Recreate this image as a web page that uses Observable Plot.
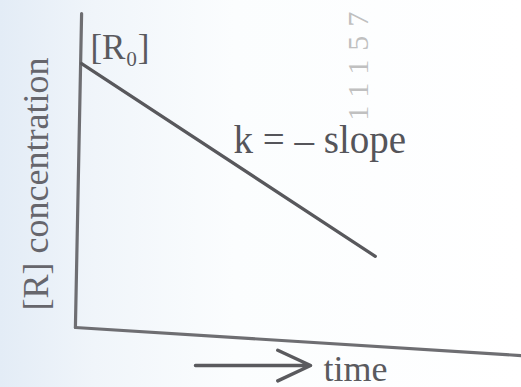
<!DOCTYPE html>
<html>
<head>
<meta charset="utf-8">
<script src="https://cdn.jsdelivr.net/npm/d3@7"></script>
<script src="https://cdn.jsdelivr.net/npm/@observablehq/plot@0.6"></script>
<style>
  html, body { margin: 0; padding: 0; background: #fff; }
  #chart { width: 521px; height: 387px; background: linear-gradient(to right, #e3ecf6 0%, #f0f5fa 18%, #fbfdfe 45%, #ffffff 100%); }
  #chart svg { display: block; }
</style>
</head>
<body>
<div id="chart"></div>
<script>
// Zero-order reaction: [R] falls linearly with time
const lineTime = [0.07, 6.7];
const lineConc = [8.46, 2.28];

// Hand-drawn axes (slightly skewed as in the photographed page)
const yAxisX = [0.07, -0.07];
const yAxisY = [10.06, 0];
const xAxisX = [-0.07, 10];
const xAxisY = [0, -0.9];

// Text labels
const labelTexts = ["k = – slope"];
const labelX = [3.5];
const labelY = [5.58];

const r0Text = ["[R₀]"];
const r0X = [0.27];
const r0Y = [8.62];

const yTitle = ["[R] concentration"];
const yTitleX = [-0.69];
const yTitleY = [4.6];

const xTitle = ["time"];
const xTitleX = [5.53];
const xTitleY = [-1.7];

const arrowX1 = [2.64], arrowX2 = [5.24], arrowY = [-1.22];

const watermark = ["11157"];
const wmX = [6.54], wmY = [6.63];

const serif = "Liberation Serif, Times New Roman, serif";

const chart = Plot.plot({
  width: 521,
  height: 387,
  marginLeft: 78,
  marginRight: 0,
  marginTop: 15,
  marginBottom: 60,
  x: {domain: [0, 10], axis: null},
  y: {domain: [0, 10], axis: null},
  style: {fontFamily: serif, background: "transparent", overflow: "visible"},
  marks: [
    Plot.text(watermark, {x: wmX, y: wmY, text: d => d, rotate: -90, textAnchor: "start", lineAnchor: "bottom",
      fontSize: 30, fill: "#c0c0c0", fontFamily: serif, clip: false}),
    Plot.line(yAxisX.map((x, i) => [x, yAxisY[i]]), {x: d => d[0], y: d => d[1], stroke: "#6e6e72", strokeWidth: 3.2}),
    Plot.line(xAxisX.map((x, i) => [x, xAxisY[i]]), {x: d => d[0], y: d => d[1], stroke: "#6e6e72", strokeWidth: 3.2}),
    Plot.line(lineTime.map((t, i) => ({time: t, conc: lineConc[i]})), {x: "time", y: "conc", stroke: "#58585c", strokeWidth: 3.2}),
    Plot.text(r0Text, {x: r0X, y: r0Y, text: d => d, textAnchor: "start", lineAnchor: "bottom", fontSize: 35, fill: "#5a5a5e"}),
    Plot.text(labelTexts, {x: labelX, y: labelY, text: d => d, textAnchor: "start", lineAnchor: "bottom", fontSize: 39, fill: "#55555a"}),
    Plot.text(yTitle, {x: yTitleX, y: yTitleY, text: d => d, rotate: -90, textAnchor: "middle", lineAnchor: "bottom", fontSize: 36, fill: "#66666c"}),
    Plot.text(xTitle, {x: xTitleX, y: xTitleY, text: d => d, textAnchor: "start", lineAnchor: "bottom", fontSize: 36, fill: "#5a5a5e"}),
    Plot.arrow([0], {x1: arrowX1, x2: arrowX2, y1: arrowY, y2: arrowY, stroke: "#5a5a5e", strokeWidth: 3.4, headLength: 16, headAngle: 50, bend: 0})
  ]
});
// widen the spacing of the faint watermark digits
d3.select(chart).selectAll("text").filter(function () { return this.textContent === watermark[0]; })
  .style("letter-spacing", "9px");
document.getElementById("chart").appendChild(chart);
</script>
</body>
</html>
